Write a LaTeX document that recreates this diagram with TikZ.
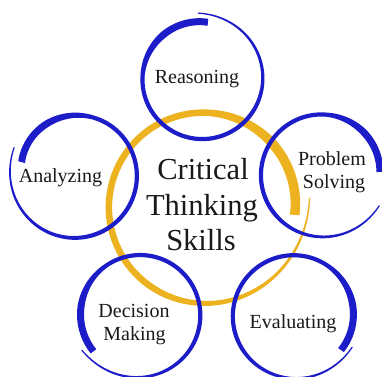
\documentclass[tikz,border=0pt]{standalone}
\usepackage{fontspec}
\setmainfont{Liberation Serif}
\definecolor{ringblue}{RGB}{28,28,200}
\definecolor{ringgold}{RGB}{236,178,32}
% brush-stroke ring: #1,#2 centre; #3 start angle; #4 end angle;
% #5 base radius; #6 start radius; #7 end radius; #8 body width; #9 end width
\newcommand\brushring[9]{%
  \def\bkA{(#3+(#4-#3)*\x)}%
  \def\bkR{(#5+(#6-#5)*exp(-8*\x)+(#7-#5)*(\x)^6)}%
  \def\bkW{(1.2+(#8-1.2)*min(1,\x/0.35)+(#9-#8)*min(1,max(0,(\x-0.75)/0.12)))}%
  \fill plot[domain=0:1,samples=180] ({#1+(\bkR+\bkW/2)*cos(\bkA)},{#2+(\bkR+\bkW/2)*sin(\bkA)})
    -- plot[domain=1:0,samples=180] ({#1+(\bkR-\bkW/2)*cos(\bkA)},{#2+(\bkR-\bkW/2)*sin(\bkA)}) -- cycle;}
\tikzset{
  goldbrush/.style={fill=ringgold},
  bluebrush/.style={fill=ringblue},
  skill/.style={font=\fontsize{20}{23}\selectfont, anchor=base, inner sep=0pt, text=black!90},
  title/.style={font=\fontsize{30.5}{35}\selectfont, anchor=base, inner sep=0pt, text=black!90}
}
\begin{document}
\begin{tikzpicture}[x=1pt,y=1pt]
  \useasboundingbox (0,0) rectangle (382,376);
  \clip (0,0) rectangle (382,376);
  \fill[white] (0,0) rectangle (382,376);
  % central gold ring
  \begin{scope}[goldbrush]
    \brushring{204}{169}{5}{-365}{95}{106}{91}{6.5}{9.5}
  \end{scope}
  % satellite blue rings
  \begin{scope}[bluebrush]
    \brushring{202}{297}{93.5}{-276}{60}{66}{57}{4.2}{7}   % Reasoning
    \brushring{75}{200.5}{155}{526}{62}{67}{55}{4.2}{7}    % Analyzing
    \brushring{322}{201}{-28}{-357}{61}{65}{58}{4.2}{7}    % Problem Solving
    \brushring{140}{61}{211}{578}{60}{68}{59}{4.2}{7}      % Decision Making
    \brushring{294}{60}{-28}{-396}{61}{66}{58}{4.2}{7}     % Evaluating
  \end{scope}
  % texts
  \node[title] (t1) at (203,197) {Critical};
  \node[title] (t2) at (202,161) {Thinking};
  \node[title] (t3) at (201,126) {Skills};
  \node[skill] (reas) at (197,293) {Reasoning};
  \node[skill] (anal) at (60.5,194) {Analyzing};
  \node[skill] (prob1) at (332,211) {Problem};
  \node[skill] (prob2) at (334,188) {Solving};
  \node[skill] (dec1) at (134,59) {Decision};
  \node[skill] (dec2) at (134.5,36) {Making};
  \node[skill] (eval) at (293,48) {Evaluating};
\end{tikzpicture}
\end{document}
